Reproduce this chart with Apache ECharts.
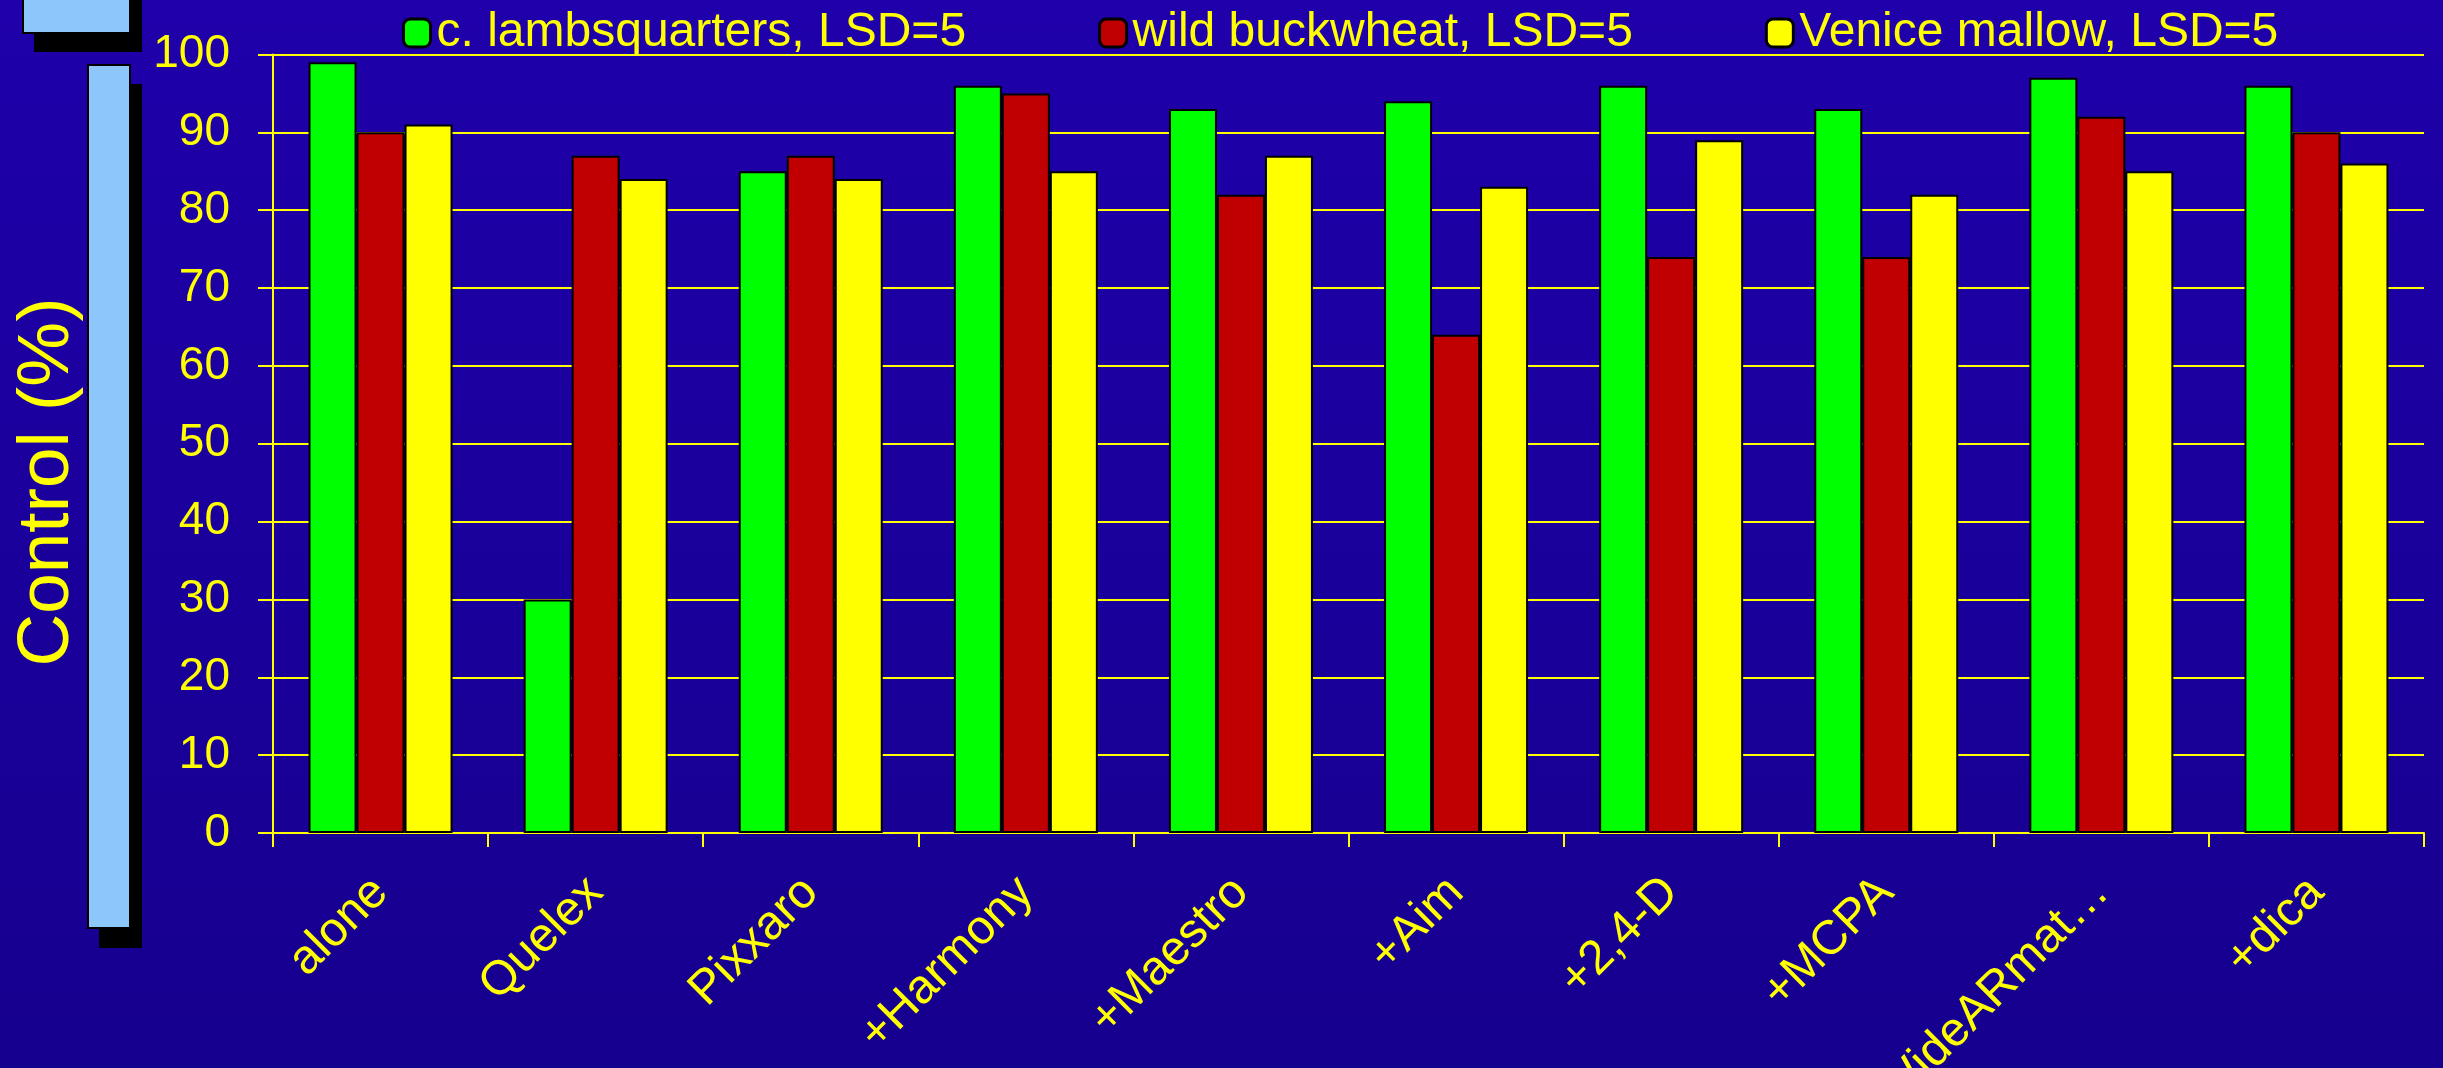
<!DOCTYPE html>
<html>
<head>
<meta charset="utf-8">
<script src="https://cdn.jsdelivr.net/npm/echarts@6/dist/echarts.min.js"></script>
<style>
  html, body { margin: 0; padding: 0; }
  #chart { width: 2443px; height: 1068px; }
</style>
</head>
<body>
<div id="chart"></div>
<script>
// 横轴类别
const categories = ['alone', 'Quelex', 'Pixxaro', '+Harmony', '+Maestro', '+Aim', '+2,4-D', '+MCPA', 'WideARmat…', '+dica'];
// 三个系列名称
const seriesNames = ['c. lambsquarters, LSD=5', 'wild buckwheat, LSD=5', 'Venice mallow, LSD=5'];
// 各杂草的防效数据
const lambsquarters = [99, 30, 85, 96, 93, 94, 96, 93, 97, 96];
const buckwheat = [90, 87, 87, 95, 82, 64, 74, 74, 92, 90];
const mallow = [91, 84, 84, 85, 87, 83, 89, 82, 85, 86];
const yTicks = [0, 10, 20, 30, 40, 50, 60, 70, 80, 90, 100];

const yellow = '#ffff00';
const font = "'Liberation Sans', Arial, sans-serif";
const colors = ['#00ff00', '#c00000', '#ffff00'];

var myChart = echarts.init(document.getElementById('chart'));

const seriesData = [lambsquarters, buckwheat, mallow];
const series = seriesNames.map((name, i) => ({
    name: name,
    type: 'bar',
    data: seriesData[i],
    barWidth: 48,
    barGap: '0%',
    itemStyle: {
        color: colors[i],
        borderColor: '#000',
        borderWidth: 2
    }
}));

var option = {
    backgroundColor: {
        type: 'linear', x: 0, y: 0, x2: 0, y2: 1,
        colorStops: [
            { offset: 0, color: '#1f00aa' },
            { offset: 1, color: '#16008e' }
        ]
    },
    color: colors,
    animation: false,
    grid: { left: 273, right: 19, top: 54.5, bottom: 235, containLabel: false, outerBoundsMode: 'none' },
    legend: {
        left: 397,
        top: 4,
        itemWidth: 27,
        itemHeight: 28,
        itemGap: 132,
        itemStyle: { borderColor: '#000', borderWidth: 3 },
        textStyle: { color: yellow, fontSize: 48, fontFamily: font, padding: [0, 0, 0, 1] },
        data: seriesNames
    },
    xAxis: {
        type: 'category',
        data: categories,
        axisLine: { lineStyle: { color: yellow, width: 2 } },
        axisTick: { show: true, length: 14, lineStyle: { color: yellow, width: 2 } },
        axisLabel: {
            interval: 0,
            rotate: 45,
            margin: 52,
            color: yellow,
            fontSize: 48,
            fontFamily: font
        }
    },
    yAxis: {
        type: 'value',
        min: yTicks[0],
        max: yTicks[yTicks.length - 1],
        interval: 10,
        axisLine: { show: true, lineStyle: { color: yellow, width: 2 } },
        axisTick: { show: true, length: 15, lineStyle: { color: yellow, width: 2 } },
        axisLabel: { color: yellow, fontSize: 46, fontFamily: font, margin: 43 },
        splitLine: { lineStyle: { color: yellow, width: 2 } }
    },
    graphic: [
        // y轴标题
        {
            type: 'text', x: 48, y: 482, rotation: Math.PI / 2, z: 1,
            style: { text: 'Control (%)', fill: yellow, fontSize: 73, fontFamily: font, textAlign: 'center', textVerticalAlign: 'middle' }
        },
        // 左侧装饰条和阴影
        { type: 'rect', z: 2, shape: { x: 34, y: -20, width: 108, height: 72 }, style: { fill: '#000' } },
        { type: 'rect', z: 3, shape: { x: 23, y: -20, width: 107, height: 53 }, style: { fill: '#8cc6fa', stroke: '#000', lineWidth: 2 } },
        { type: 'rect', z: 2, shape: { x: 99, y: 84, width: 43, height: 864 }, style: { fill: '#000' } },
        { type: 'rect', z: 3, shape: { x: 88, y: 65, width: 42, height: 863 }, style: { fill: '#8cc6fa', stroke: '#000', lineWidth: 2 } }
    ],
    series
};

myChart.setOption(option);
</script>
</body>
</html>
